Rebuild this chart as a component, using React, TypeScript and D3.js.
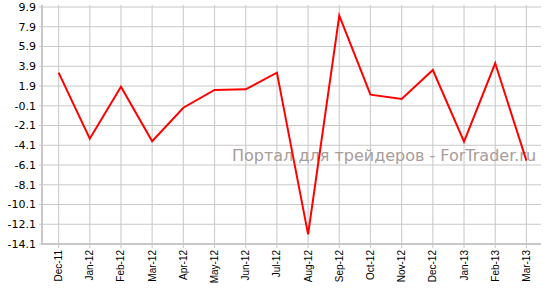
import React from "react";
import * as d3 from "d3";

const categories = ["Dec-11","Jan-12","Feb-12","Mar-12","Apr-12","May-12","Jun-12","Jul-12","Aug-12","Sep-12","Oct-12","Nov-12","Dec-12","Jan-13","Feb-13","Mar-13"];
const values = [3.25,-3.44,1.83,-3.7,-0.3,1.5,1.56,3.25,-13.12,9.02,1.02,0.58,3.52,-3.74,4.2,-5.66];
const yTicks = [9.9,7.9,5.9,3.9,1.9,-0.1,-2.1,-4.1,-6.1,-8.1,-10.1,-12.1,-14.1];
const watermark = "Портал для трейдеров - ForTrader.ru";

export default function App() {
  const W = 548, H = 291;
  const left = 42, right = 541, top = 7, bottom = 244;
  const x = d3.scalePoint<string>().domain(categories).range([43, 542]).padding(0.5);
  const y = d3.scaleLinear().domain([-14.1, 9.9]).range([bottom, top]);
  const line = d3.line<number>().x((_, i) => x(categories[i])!).y(d => y(d));
  return (
    <svg width={W} height={H} style={{ position: "absolute", left: 0, top: 0 }}>
      <rect width={W} height={H} fill="#fff" />
      {yTicks.map(t => (
        <line key={"h" + t} x1={left} x2={right} y1={y(t)} y2={y(t)} stroke="#c8c8c8" strokeWidth={1} />
      ))}
      {categories.map(c => (
        <line key={"v" + c} x1={x(c)} x2={x(c)} y1={5} y2={bottom} stroke="#cfcfcf" strokeWidth={1.2} />
      ))}
      <line x1={left} x2={left} y1={5} y2={bottom + 1} stroke="#c8c8c8" strokeWidth={2} />
      <line x1={left - 1} x2={right} y1={bottom} y2={bottom} stroke="#c8c8c8" strokeWidth={2} />
      {yTicks.map(t => (
        <g key={"yt" + t}>
          <line x1={39} x2={left} y1={y(t)} y2={y(t)} stroke="#c8c8c8" strokeWidth={1} />
          <text x={36} y={y(t)} dy="0.35em" textAnchor="end" fontFamily="DejaVu Sans" fontSize={11} fill="#000">{t.toFixed(1)}</text>
        </g>
      ))}
      {categories.map(c => (
        <g key={"xt" + c}>
          <line x1={x(c)} x2={x(c)} y1={bottom} y2={bottom + 4} stroke="#c8c8c8" strokeWidth={1} />
          <text transform={`translate(${x(c)},${bottom + 6}) rotate(-90)`} dy="0.35em" textAnchor="end" fontFamily="Liberation Sans" fontSize={10} fill="#000">{c}</text>
        </g>
      ))}
      <text x={232} y={161} fontFamily="DejaVu Sans" fontSize={16} fill="#a89c9c">{watermark}</text>
      <path d={line(values)!} fill="none" stroke="#ff0000" strokeWidth={2} strokeLinejoin="miter" />
    </svg>
  );
}
